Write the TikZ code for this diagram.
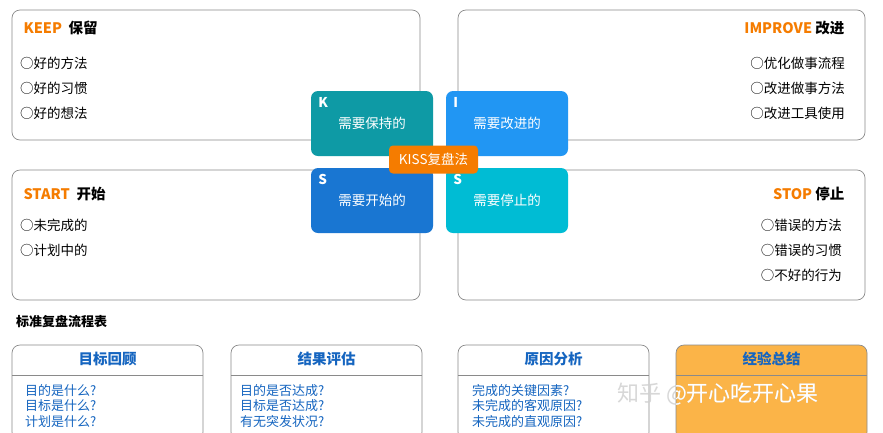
\documentclass[tikz,border=0pt]{standalone}
\usepackage{fontspec}
\setmainfont{Noto Sans CJK SC}
\usetikzlibrary{positioning}
\definecolor{kc}{HTML}{0E9AA5}
\definecolor{ic}{HTML}{2196F3}
\definecolor{sc}{HTML}{1976D2}
\definecolor{tc}{HTML}{00BCD4}
\definecolor{oc}{HTML}{F57C00}
\definecolor{yc}{HTML}{FBB448}
\definecolor{bt}{HTML}{1565C0}
\definecolor{gl}{HTML}{8A8A8A}
\begin{document}
\begin{tikzpicture}[x=1pt,y=-1pt,
  panel/.style={draw=gl,rounded corners=8pt,line width=0.7pt},
  tile/.style={rounded corners=7pt,text=white,minimum width=122pt,minimum height=65pt,inner sep=0pt},
  ttl/.style={font=\fontsize{14.5}{16}\selectfont\bfseries},
  itm/.style={font=\fontsize{13.5}{15}\selectfont,inner sep=0pt},
  bhead/.style={font=\fontsize{14.5}{16}\selectfont\bfseries,text=bt,inner sep=0pt},
  btxt/.style={font=\fontsize{13}{15.5}\selectfont,text=bt,align=left,inner sep=0pt,anchor=north west},
  wmark/.style={inner sep=0pt,font=\fontsize{22}{24}\selectfont,anchor=west}]
\useasboundingbox (0,0) rectangle (883,432);
\fill[white] (0,0) rectangle (883,432);
% panels
\draw[panel] (12,10) rectangle (420,140);
\draw[panel] (458,10) rectangle (865,140);
\draw[panel] (12,170) rectangle (420,300);
\draw[panel] (458,170) rectangle (865,300);
% titles
\node[ttl,anchor=west] (tk) at (20,28) {\textcolor{oc}{KEEP}\ \ 保留};
\node[ttl,anchor=east] (ti) at (848,28) {\textcolor{oc}{IMPROVE}\ 改进};
\node[ttl,anchor=west] (ts) at (20,194) {\textcolor{oc}{START}\ \ 开始};
\node[ttl,anchor=east] (tt) at (848,194) {\textcolor{oc}{STOP}\ 停止};
% items
\node[itm,anchor=west] (k1) at (20,63) {○好的方法};
\node[itm,anchor=west] (k2) at (20,88) {○好的习惯};
\node[itm,anchor=west] (k3) at (20,113) {○好的想法};
\node[itm,anchor=east] (i1) at (845,63) {○优化做事流程};
\node[itm,anchor=east] (i2) at (845,88) {○改进做事方法};
\node[itm,anchor=east] (i3) at (845,113) {○改进工具使用};
\node[itm,anchor=west] (s1) at (20,225) {○未完成的};
\node[itm,anchor=west] (s2) at (20,250) {○计划中的};
\node[itm,anchor=east] (p1) at (842,225) {○错误的方法};
\node[itm,anchor=east] (p2) at (842,250) {○错误的习惯};
\node[itm,anchor=east] (p3) at (842,275) {○不好的行为};
% tiles
\node[tile,fill=kc] (K) at (372,123.5) {};
\node[tile,fill=ic] (I) at (507,123.5) {};
\node[tile,fill=sc] (S) at (372,200.5) {};
\node[tile,fill=tc] (T) at (507,200.5) {};
\foreach \n/\l/\t in {K/K/需要保持的,I/I/需要改进的,S/S/需要开始的,T/S/需要停止的}{
  \node[text=white,font=\fontsize{13.5}{15}\selectfont\bfseries,anchor=west] at ([xshift=4pt,yshift=-12pt]\n.west|-\n.north) {\l};
  \node[text=white,font=\fontsize{13.5}{15}\selectfont] at ([yshift=0pt]\n.center) {\t};
}
\node[fill=oc,rounded corners=4pt,text=white,minimum width=89pt,minimum height=28pt,inner sep=0pt,font=\fontsize{13.5}{15}\selectfont] (kiss) at (433.5,159.5) {KISS复盘法};
% table
\node[anchor=west,inner sep=0pt,font=\fontsize{13}{14}\selectfont\bfseries] (tb) at (16,322) {标准复盘流程表};
\foreach \x/\h/\f [count=\i] in {12/目标回顾/white,231/结果评估/white,458/原因分析/white,676/经验总结/yc}{
  \draw[panel,fill=\f] (\x,345) -- (\x+191,345) -- (\x+191,440) -- (\x,440) -- cycle;
  \draw[gl,line width=0.7pt] (\x,375) -- (\x+191,375);
  \node[bhead] (h\i) at (\x+95.5,359) {\h};
}
\node[btxt] (b1) at (25,384) {目的是什么?\\目标是什么?\\计划是什么?};
\node[btxt] (b2) at (240,384) {目的是否达成?\\目标是否达成?\\有无突发状况?};
\node[btxt] (b3) at (472,384) {完成的关键因素?\\未完成的客观原因?\\未完成的直观原因?};
\node[wmark,text=black!18,opacity=0.85] (wm) at (617,394) {知乎 @开心吃开心果};
\begin{scope}
\clip (676,345) rectangle (867,432);
\node[wmark,text=white] (wm2) at (617,394) {知乎 @开心吃开心果};
\end{scope}
\end{tikzpicture}
\end{document}
